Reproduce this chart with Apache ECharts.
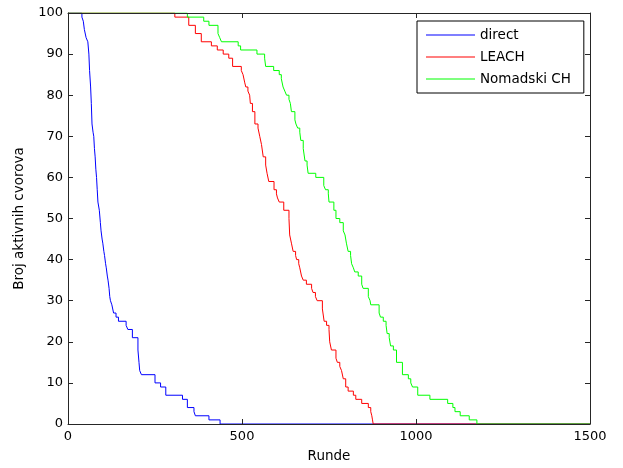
<!DOCTYPE html>
<html>
<head>
<meta charset="utf-8">
<script src="https://cdn.jsdelivr.net/npm/echarts@6/dist/echarts.min.js"></script>
<style>
html,body{margin:0;padding:0;background:#fff;}
#chart{width:623px;height:468px;}
</style>
</head>
<body>
<div id="chart"></div>
<script>
// Series names
const seriesNames = ['direct', 'LEACH', 'Nomadski CH'];

// [round, alive nodes] – value becomes y at round x
const direct = [[0,100],[40,99],[44,98],[47,96],[52,94],[57,93],[60,90],[62,86],[65,82],[67,78],[69,73],[72,71],[74,70],[76,67],[78,65],[80,62],[82,60],[84,57],[86,54],[90,52],[93,49],[95,47],[98,45],[100,44],[103,42],[105,41],[108,39],[110,38],[113,36],[115,35],[118,33],[120,31],[122,30],[126,29],[131,27],[138,26],[145,25],[167,24],[172,23],[185,21],[201,18],[204,15],[206,13],[211,12],[250,10],[266,9],[281,7],[329,6],[343,4],[362,3],[366,2],[405,1],[437,0],[1500,0]];

const leach = [[0,100],[307,99],[347,97],[366,95],[383,93],[412,92],[429,91],[446,90],[462,89],[473,87],[498,86],[503,85],[508,83],[511,82],[517,81],[522,80],[524,78],[530,76],[537,73],[546,72],[551,70],[556,68],[561,65],[568,63],[572,61],[577,59],[592,57],[599,56],[602,55],[607,54],[620,52],[635,50],[637,46],[642,44],[647,42],[654,41],[657,40],[663,39],[666,38],[671,36],[676,35],[685,34],[700,33],[704,32],[711,31],[716,30],[731,28],[736,25],[743,24],[750,23],[752,20],[757,18],[770,16],[774,15],[781,14],[786,13],[791,11],[798,9],[805,8],[820,7],[827,6],[844,5],[863,4],[870,3],[873,2],[875,1],[877,0],[1500,0]];

const nomadski = [[0,100],[343,99],[390,98],[405,97],[431,95],[436,94],[441,93],[489,92],[496,91],[543,90],[565,89],[568,87],[591,86],[607,85],[613,84],[618,82],[623,81],[628,80],[635,79],[639,78],[642,76],[652,74],[655,73],[660,72],[666,71],[669,69],[676,67],[681,64],[687,63],[690,61],[712,60],[735,58],[740,57],[748,56],[750,54],[764,52],[770,50],[781,49],[791,47],[796,46],[800,44],[805,42],[812,41],[815,39],[820,38],[824,37],[834,36],[844,34],[848,33],[863,31],[868,30],[870,29],[894,27],[898,26],[906,25],[914,24],[917,22],[923,21],[927,19],[935,18],[944,15],[961,12],[978,11],[985,10],[990,9],[1005,7],[1040,6],[1091,5],[1106,4],[1112,3],[1127,2],[1153,1],[1175,0],[1500,0]];

const xTicks = {min: 0, max: 1500, interval: 500};
const yTicks = {min: 0, max: 100, interval: 10};

const FONT = 'DejaVu Sans';
const AX = '#262626';

const chart = echarts.init(document.getElementById('chart'), null, {renderer: 'canvas'});

function axisBase(showLabel) {
  return {
    zlevel: 1,
    z: 10,
    axisLine: {show: true, onZero: false, lineStyle: {color: AX, width: 1}},
    axisTick: {show: true, inside: true, length: 5, lineStyle: {color: AX, width: 1}},
    splitLine: {show: false},
    axisLabel: {show: showLabel, color: '#000', fontFamily: FONT, fontSize: 13}
  };
}

const option = {
  animation: false,
  backgroundColor: '#fff',
  grid: {left: 68, right: 33, top: 13, bottom: 44},
  legend: {
    show: true,
    data: seriesNames,
    orient: 'vertical',
    left: 417,
    top: 21,
    icon: 'rect',
    itemWidth: 49,
    itemHeight: 1.2,
    itemGap: 8,
    padding: [7, 13, 7, 9],
    borderColor: '#000',
    borderWidth: 1,
    backgroundColor: '#fff',
    textStyle: {color: '#000', fontFamily: FONT, fontSize: 13.5, padding: [0, 0, 0, 0]},
    zlevel: 2,
    z: 20
  },
  xAxis: [
    Object.assign(axisBase(true), {
      type: 'value', position: 'bottom',
      min: xTicks.min, max: xTicks.max, interval: xTicks.interval,
      name: 'Runde', nameLocation: 'middle', nameGap: 25,
      nameTextStyle: {color: '#000', fontFamily: FONT, fontSize: 13.5},
      axisLabel: {show: true, color: '#000', fontFamily: FONT, fontSize: 13, margin: 6,
                  formatter: v => String(v)}
    }),
    Object.assign(axisBase(false), {
      type: 'value', position: 'top',
      min: xTicks.min, max: xTicks.max, interval: xTicks.interval
    })
  ],
  yAxis: [
    Object.assign(axisBase(true), {
      type: 'value', position: 'left',
      min: yTicks.min, max: yTicks.max, interval: yTicks.interval,
      name: 'Broj aktivnih cvorova', nameLocation: 'middle', nameGap: 42,
      nameRotate: 90,
      nameTextStyle: {color: '#000', fontFamily: FONT, fontSize: 13.5},
      axisLabel: {show: true, color: '#000', fontFamily: FONT, fontSize: 13, margin: 5,
                  formatter: v => String(v)}
    }),
    Object.assign(axisBase(false), {
      type: 'value', position: 'right',
      min: yTicks.min, max: yTicks.max, interval: yTicks.interval
    })
  ],
  series: [
    {name: seriesNames[0], type: 'line', step: 'end', data: direct, symbol: 'none',
     lineStyle: {color: '#0000ff', width: 1}, itemStyle: {color: '#0000ff'}, z: 2},
    {name: seriesNames[1], type: 'line', step: 'end', data: leach, symbol: 'none',
     lineStyle: {color: '#ff0000', width: 1}, itemStyle: {color: '#ff0000'}, z: 2},
    {name: seriesNames[2], type: 'line', step: 'end', data: nomadski, symbol: 'none',
     lineStyle: {color: '#00ff00', width: 1}, itemStyle: {color: '#00ff00'}, z: 2}
  ]
};
chart.setOption(option);
</script>
</body>
</html>
